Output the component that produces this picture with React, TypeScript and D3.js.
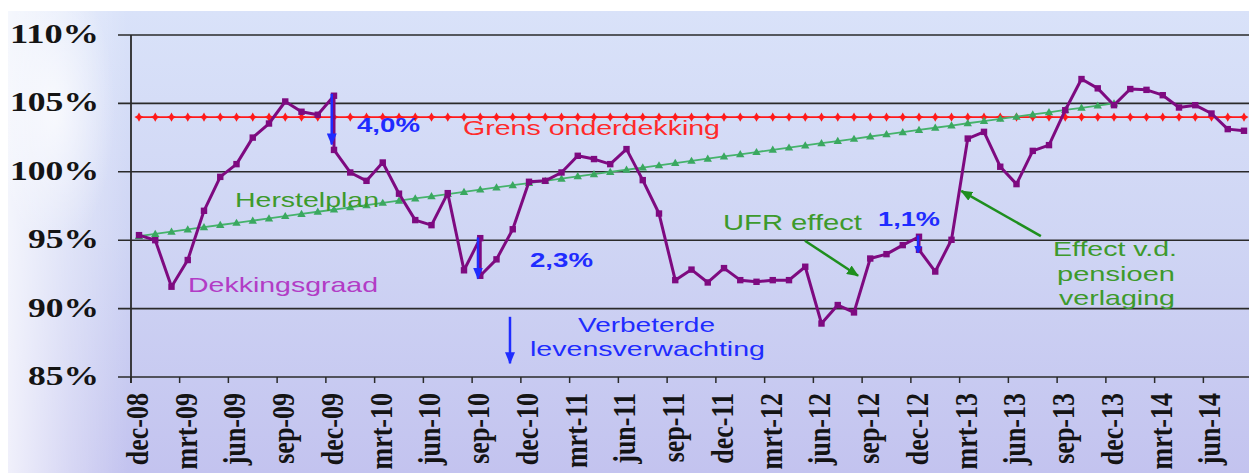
import React from "react";
import * as d3 from "d3";

// ---- data ----
const months = [
  "dec-08",
  "jan-09","feb-09","mrt-09","apr-09","mei-09","jun-09","jul-09","aug-09","sep-09","okt-09","nov-09","dec-09",
  "jan-10","feb-10","mrt-10","apr-10","mei-10","jun-10","jul-10","aug-10","sep-10","okt-10","nov-10","dec-10",
  "jan-11","feb-11","mrt-11","apr-11","mei-11","jun-11","jul-11","aug-11","sep-11","okt-11","nov-11","dec-11",
  "jan-12","feb-12","mrt-12","apr-12","mei-12","jun-12","jul-12","aug-12","sep-12","okt-12","nov-12","dec-12",
  "jan-13","feb-13","mrt-13","apr-13","mei-13","jun-13","jul-13","aug-13","sep-13","okt-13","nov-13","dec-13",
  "jan-14","feb-14","mrt-14","apr-14","mei-14","jun-14","jul-14","aug-14",
];

const dekkingsgraad = [
  95.37,
  95.0, 91.6, 93.55, 97.15, 99.63, 100.56, 102.5, 103.53, 105.14, 104.39, 104.17, 101.6,
  99.95, 99.34, 100.68, 98.4, 96.47, 96.1, 98.44, 92.8, 92.4, 93.6, 95.8, 99.27,
  99.34, 99.95, 101.17, 100.93, 100.56, 101.66, 99.39, 96.95, 92.08, 92.85, 91.91, 92.96,
  92.08, 91.96, 92.08, 92.08, 93.06, 88.91, 90.26, 89.72, 93.66, 93.98, 94.64, 94.3,
  92.71, 95.03, 102.43, 102.92, 100.37, 99.1, 101.53, 101.95, 104.5, 106.78, 106.1, 104.87,
  106.05, 105.99, 105.6, 104.7, 104.87, 104.26, 103.12, 103.0,
];

// months with a step (value before the step)
const jumpMonths = ["dec-09", "sep-10", "dec-12"];
const jumpBefore = [105.56, 95.15, 95.25];

const herstelplan = [
  95.30, 95.46, 95.62, 95.79, 95.95, 96.11, 96.27, 96.43, 96.59, 96.76, 96.92, 97.08, 97.24,
  97.40, 97.56, 97.73, 97.89, 98.05, 98.21, 98.37, 98.53, 98.70, 98.86, 99.02, 99.18,
  99.34, 99.50, 99.67, 99.83, 99.99, 100.15, 100.31, 100.47, 100.64, 100.80, 100.96, 101.12,
  101.28, 101.44, 101.61, 101.77, 101.93, 102.09, 102.25, 102.41, 102.58, 102.74, 102.90, 103.06,
  103.22, 103.38, 103.55, 103.71, 103.87, 104.03, 104.19, 104.35, 104.52, 104.68, 104.84, 105.00,
];

const grensOnderdekking = 104.0;

const tickLabels = [
  "dec-08","mrt-09","jun-09","sep-09","dec-09","mrt-10","jun-10","sep-10","dec-10",
  "mrt-11","jun-11","sep-11","dec-11","mrt-12","jun-12","sep-12","dec-12",
  "mrt-13","jun-13","sep-13","dec-13","mrt-14","jun-14",
];

const yTicks = [85, 90, 95, 100, 105, 110];

// ---- layout ----
const W = 1249;
const H = 473;
const x = d3.scaleLinear().domain([0, months.length - 1]).range([139, 1244]);
const y = d3.scaleLinear().domain([85, 110]).range([377, 35]);
const idx = (m: string) => months.indexOf(m);

const SANS = "'Liberation Sans', Arial, sans-serif";
const SERIF = "'Liberation Serif', 'Times New Roman', serif";
const BLUE = "#1f2cff";
const GREEN_TXT = "#3d9a2c";
const GREEN_ARROW = "#1e8f1e";

function Label(props: { x0: number; x1: number; yb: number; fill: string; size: number; bold?: boolean; text: string }) {
  const { x0, x1, yb, fill, size, bold, text } = props;
  return (
    <text
      x={x0}
      y={yb}
      textLength={x1 - x0}
      lengthAdjust="spacingAndGlyphs"
      fontFamily={SANS}
      fontSize={size}
      fontWeight={bold ? "bold" : "normal"}
      fill={fill}
    >
      {text}
    </text>
  );
}

export default function App() {
  const line = d3.line<[number, number]>().x((d) => x(d[0])).y((d) => y(d[1]));

  const dgPts: [number, number][] = [];
  dekkingsgraad.forEach((v, i) => {
    const j = jumpMonths.indexOf(months[i]);
    if (j >= 0) dgPts.push([i, jumpBefore[j]]);
    dgPts.push([i, v]);
  });
  const hpPts: [number, number][] = herstelplan.map((v, i) => [i, v]);
  const grPts: [number, number][] = months.map((_, i) => [i, grensOnderdekking]);

  const star = "M0,-4.6 L1.7,-1.7 L4.6,0 L1.7,1.7 L0,4.6 L-1.7,1.7 L-4.6,0 L-1.7,-1.7Z";
  const tri = "M0,-4.2 L4.2,3 L-4.2,3Z";

  const x0 = 131;
  const xRight = W;

  return (
    <svg width={W} height={H} style={{ position: "absolute", left: 0, top: 0, display: "block" }}>
      <defs>
        <linearGradient id="bg" x1="0" y1="0" x2="0" y2="1">
          <stop offset="0" stopColor="#d9e2f9" />
          <stop offset="0.5" stopColor="#cfd5f4" />
          <stop offset="1" stopColor="#c3c3ef" />
        </linearGradient>
        <linearGradient id="swirl" x1="0" y1="0" x2="1" y2="0">
          <stop offset="0" stopColor="#ffffff" stopOpacity="0.75" />
          <stop offset="0.5" stopColor="#ffffff" stopOpacity="0.35" />
          <stop offset="1" stopColor="#ffffff" stopOpacity="0" />
        </linearGradient>
        <radialGradient id="glow" cx="0.5" cy="0.5" r="0.5">
          <stop offset="0" stopColor="#ffffff" stopOpacity="0.7" />
          <stop offset="1" stopColor="#ffffff" stopOpacity="0" />
        </radialGradient>
        <marker id="arrBlue" viewBox="0 0 12 10" refX="11" refY="5" markerWidth="12" markerHeight="10" markerUnits="userSpaceOnUse" orient="auto">
          <path d="M0,0 L12,5 L0,10Z" fill={BLUE} />
        </marker>
        <marker id="arrBlueSmall" viewBox="0 0 8 8" refX="7" refY="4" markerWidth="8" markerHeight="8" markerUnits="userSpaceOnUse" orient="auto">
          <path d="M0,0 L8,4 L0,8Z" fill={BLUE} />
        </marker>
        <marker id="arrGreen" viewBox="0 0 12 10" refX="11" refY="5" markerWidth="12" markerHeight="10" markerUnits="userSpaceOnUse" orient="auto">
          <path d="M0,0 L12,5 L0,10Z" fill={GREEN_ARROW} />
        </marker>
      </defs>

      {/* background */}
      <rect x={8} y={11} width={W - 8} height={H - 11} fill="url(#bg)" />
      <rect x={8} y={11} width={120} height={H - 11} fill="url(#swirl)" />
      <ellipse cx={55} cy={110} rx={60} ry={140} fill="url(#glow)" />

      {/* gridlines */}
      {yTicks.map((t) => (
        <line key={t} x1={118} x2={xRight} y1={y(t)} y2={y(t)} stroke="#2a2a2a" strokeWidth={1.6} />
      ))}
      {/* y axis */}
      <line x1={x0} x2={x0} y1={y(110)} y2={383} stroke="#2a2a2a" strokeWidth={1.8} />
      {/* x ticks */}
      {tickLabels.map((m) => {
        const tx = x(idx(m) - 0.5);
        return <line key={m} x1={tx} x2={tx} y1={y(85)} y2={383} stroke="#2a2a2a" strokeWidth={1.5} />;
      })}

      {/* y labels */}
      {yTicks.map((t) => {
        const s = `${t}%`;
        const w = t >= 100 ? 89 : 71;
        return (
          <text
            key={t}
            x={99 - w}
            y={y(t) + 8}
            textLength={w}
            lengthAdjust="spacingAndGlyphs"
            fontFamily={SERIF}
            fontWeight="bold"
            fontSize={27}
            fill="#141414"
          >
            {s}
          </text>
        );
      })}

      {/* x labels */}
      {tickLabels.map((m) => {
        const tx = x(idx(m) - 0.5) + 17;
        return (
          <text
            key={m}
            transform={`translate(${tx},393) scale(1.2,1) rotate(-90)`}
            textAnchor="end"
            fontFamily={SERIF}
            fontWeight="bold"
            fontSize={26}
            fill="#141414"
          >
            {m}
          </text>
        );
      })}

      {/* Grens onderdekking */}
      <path d={line(grPts) || ""} fill="none" stroke="#ff1a1a" strokeWidth={1.8} />
      {grPts.map((d, i) => (
        <path key={i} d={star} transform={`translate(${x(d[0])},${y(d[1])})`} fill="#ff1a1a" />
      ))}

      {/* Herstelplan */}
      <path d={line(hpPts) || ""} fill="none" stroke="#45b36b" strokeWidth={1.8} />
      {hpPts.map((d, i) => (
        <path key={i} d={tri} transform={`translate(${x(d[0])},${y(d[1])})`} fill="#3aa860" />
      ))}

      {/* Dekkingsgraad */}
      <path d={line(dgPts) || ""} fill="none" stroke="#7e0a80" strokeWidth={3} strokeLinejoin="round" />
      {dgPts.map((d, i) => (
        <rect key={i} x={x(d[0]) - 3.2} y={y(d[1]) - 3.2} width={6.4} height={6.4} fill="#7e0a80" />
      ))}

      {/* arrows */}
      <line x1={x(11.86)} x2={x(11.86)} y1={y(105.7)} y2={y(102.0)} stroke={BLUE} strokeWidth={2.5} markerEnd="url(#arrBlue)" />
      <line x1={x(20.86)} x2={x(20.86)} y1={y(95.2)} y2={y(92.2)} stroke={BLUE} strokeWidth={2.5} markerEnd="url(#arrBlue)" />
      <line x1={x(47.94)} x2={x(47.94)} y1={y(95.35)} y2={y(94.1)} stroke={BLUE} strokeWidth={2.5} markerEnd="url(#arrBlueSmall)" />
      <line x1={x(22.83)} x2={x(22.83)} y1={y(89.4)} y2={y(86.0)} stroke={BLUE} strokeWidth={2.5} markerEnd="url(#arrBlue)" />
      <line x1={x(40.98)} x2={x(44.25)} y1={y(94.96)} y2={y(92.4)} stroke={GREEN_ARROW} strokeWidth={2.5} markerEnd="url(#arrGreen)" />
      <line x1={x(55.5)} x2={x(50.6)} y1={y(95.3)} y2={y(98.6)} stroke={GREEN_ARROW} strokeWidth={2.5} markerEnd="url(#arrGreen)" />

      {/* annotation texts */}
      <Label x0={463} x1={720} yb={135} fill="#ff2a2a" size={21} text="Grens onderdekking" />
      <Label x0={357} x1={420} yb={132} fill={BLUE} size={20} bold text="4,0%" />
      <Label x0={235} x1={379} yb={207} fill={GREEN_TXT} size={21} text="Herstelplan" />
      <Label x0={188} x1={378} yb={292} fill="#b23cc6" size={21} text="Dekkingsgraad" />
      <Label x0={530} x1={593} yb={267} fill={BLUE} size={20} bold text="2,3%" />
      <Label x0={723} x1={862} yb={230} fill={GREEN_TXT} size={22} text="UFR effect" />
      <Label x0={878} x1={940} yb={226} fill={BLUE} size={20} bold text="1,1%" />
      <Label x0={1053} x1={1177} yb={256} fill={GREEN_TXT} size={21} text="Effect v.d." />
      <Label x0={1057} x1={1175} yb={281} fill={GREEN_TXT} size={21} text="pensioen" />
      <Label x0={1059} x1={1175} yb={305} fill={GREEN_TXT} size={21} text="verlaging" />
      <Label x0={578} x1={715} yb={332} fill={BLUE} size={21} text="Verbeterde" />
      <Label x0={530} x1={765} yb={356} fill={BLUE} size={21} text="levensverwachting" />
    </svg>
  );
}
